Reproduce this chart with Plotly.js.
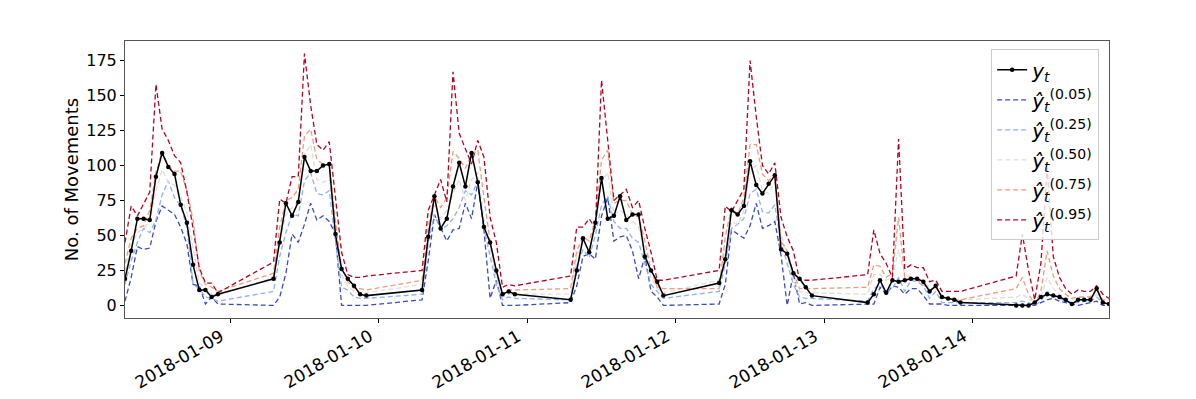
<!DOCTYPE html>
<html>
<head>
<meta charset="utf-8">
<script src="https://cdn.plot.ly/plotly-3.0.1.min.js"></script>
<style>
  html, body { margin:0; padding:0; background:#fff; }
  #chart { width:1196px; height:399px; }
</style>
</head>
<body>
<div id="chart"></div>
<script>
/* hourly movements 07:00-22:00, 2018-01-08 .. 2018-01-14, with predicted quantiles */

const days  = ['2018-01-08','2018-01-09','2018-01-10','2018-01-11','2018-01-12','2018-01-13','2018-01-14'];
const hours = ['07','08','09','10','11','12','13','14','15','16','17','18','19','20','21','22'];
const tickDays   = ['2018-01-09','2018-01-10','2018-01-11','2018-01-12','2018-01-13','2018-01-14'];
const yTicks     = [0,25,50,75,100,125,150,175];

// observed y_t, one row per day
const yObs = [
  [19,39,62,62,61,92,109,99,94,72,59,29,11,11,6,8],
  [19,45,73,64,74,106,96,96,100,101,51,26,19,14,8,7],
  [11,49,78,55,62,85,102,85,109,88,56,45,25,8,10,8],
  [4,25,48,38,59,91,62,64,78,61,65,65,35,25,17,7],
  [16,33,68,65,71,103,86,80,87,93,40,37,23,19,13,7],
  [2,8,18,9,18,17,18,19,19,17,10,14,6,5,4,2],
  [0,0,0,2,6,8,7,6,4,1,4,4,4,12,2,1]
];
const q05 = [
  [3,20,42,40,41,60,71,68,65,56,44,15,14,1,6,1],
  [0,6,23,51,45,58,73,61,64,60,51,0,0,0,0,0],
  [4,32,65,55,46,54,55,73,62,88,54,5,18,0,0,0],
  [2,14,35,37,33,64,77,46,49,50,39,19,35,10,6,0],
  [1,15,54,51,48,57,73,55,57,60,36,0,23,1,2,0],
  [1,1,13,8,14,13,8,12,12,7,1,1,1,0,0,0],
  [0,0,0,0,2,4,5,3,2,1,0,1,2,3,0,0]
];
const q25 = [
  [15,32,45,55,52,61,79,89,77,71,56,15,12,6,5,3],
  [10,35,52,65,64,89,95,80,79,82,46,13,11,6,5,5],
  [8,45,65,54,57,62,70,82,79,89,55,35,15,4,6,5],
  [4,28,40,34,50,72,78,60,55,55,48,45,30,15,10,5],
  [10,30,55,58,62,80,83,67,66,72,45,30,15,6,5,5],
  [3,12,15,10,12,20,10,18,17,14,5,10,2,2,2,2],
  [2,3,2,0,3,10,7,5,3,2,2,3,3,6,2,1]
];
const q50 = [
  [25,42,52,55,60,82,97,88,86,78,66,40,16,12,8,7],
  [20,45,65,70,75,108,115,90,88,90,52,22,14,10,9,9],
  [15,52,72,62,68,80,90,75,90,95,62,40,20,6,8,8],
  [8,35,45,40,55,88,95,65,68,65,60,56,40,20,12,9],
  [18,40,60,58,68,95,100,82,80,88,52,35,18,10,9,9],
  [8,22,22,18,20,40,22,20,20,18,12,12,6,5,4,4],
  [6,8,5,1,6,20,12,8,5,4,4,4,4,8,3,2]
];
const q75 = [
  [30,48,55,57,68,95,110,100,96,96,82,61,25,15,13,10],
  [23,56,75,77,83,121,126,104,101,100,61,27,17,12,12,11],
  [18,56,78,70,77,110,105,98,108,111,77,46,23,8,11,11],
  [12,39,49,46,61,104,111,73,75,75,65,63,46,25,13,12],
  [12,49,70,65,77,115,115,94,89,94,46,39,23,12,12,12],
  [13,29,28,20,23,63,20,19,18,15,11,13,6,5,4,4],
  [12,20,8,1,10,39,21,12,8,5,6,6,6,12,4,4]
];
const q95 = [
  [45,71,64,73,81,158,126,118,107,102,81,55,27,16,16,9],
  [31,76,73,92,92,180,143,115,111,117,75,38,22,20,20,21],
  [25,68,79,90,74,167,123,112,101,118,106,63,45,13,15,14],
  [21,56,56,62,55,161,118,75,79,83,70,75,55,38,18,18],
  [25,71,67,75,83,175,135,100,94,102,63,49,39,18,18,18],
  [22,54,37,30,20,119,26,29,27,27,17,18,10,10,10,10],
  [21,51,25,4,30,98,35,20,12,8,11,10,10,14,8,5]
];

const quantLabels = ['0.05','0.25','0.50','0.75','0.95'];
const quantColors = ['#3b4cc0','#8db0fe','#dddddd','#f49a7b','#b40426'];

const x = days.flatMap(d => hours.map(h => `${d} ${h}:00`));
const flat = rows => rows.flat();

const FONT = { family:'DejaVu Sans, sans-serif', color:'#000' };

const traces = [q05,q25,q50,q75,q95].map((q,i) => ({
  type:'scatter', mode:'lines', x, y:flat(q),
  name:`<i>ŷ</i><sub><i>t</i></sub><sup>(${quantLabels[i]})</sup>`,
  line:{ color:quantColors[i], width:1.3, dash:'5px,3px' },
  legendrank:i+2, legendgroup:'q'+i,
}));
traces.push({
  type:'scatter', mode:'lines+markers', x, y:flat(yObs),
  name:'<i>y</i><sub><i>t</i></sub>',
  line:{ color:'#000', width:1.5 },
  marker:{ color:'#000', size:4.5 },
  legendrank:1, legendgroup:'obs',
});

// date tick labels, rotated like the source figure (right end at the tick)
const dateLabels = tickDays.map(d => ({
  x:d, xref:'x', y:0, yref:'paper', text:d, showarrow:false,
  xanchor:'right', yanchor:'top', textangle:-30, yshift:-5,
  font:{ ...FONT, size:17 },
}));

Plotly.newPlot('chart', traces, {
  width:1196, height:399,
  margin:{ l:125, r:87, t:41, b:81 },
  paper_bgcolor:'#fff', plot_bgcolor:'#fff',
  font:{ ...FONT, size:16 },
  showlegend:true,
  legend:{ x:0.99, y:0.97, xanchor:'right', yanchor:'top',
           bgcolor:'rgba(255,255,255,0.8)', bordercolor:'#cccccc', borderwidth:1,
           tracegroupgap:1, font:{ ...FONT, size:20 } },
  annotations:dateLabels,
  xaxis:{ type:'date', range:[`${days[0]} 07:00`, `${days[6]} 22:00`],
          tickvals:tickDays, showticklabels:false,
          ticks:'outside', ticklen:4, tickcolor:'#000',
          showline:true, mirror:true, linecolor:'#555', linewidth:1,
          showgrid:false, zeroline:false },
  yaxis:{ range:[-9,189], tickvals:yTicks,
          ticks:'outside', ticklen:4, tickcolor:'#000',
          showline:true, mirror:true, linecolor:'#555', linewidth:1,
          showgrid:false, zeroline:false, tickfont:{ ...FONT, size:16 },
          title:{ text:'No. of Movements', font:{ ...FONT, size:18 }, standoff:2 } },
}, { displayModeBar:false, responsive:false });
</script>
</body>
</html>
